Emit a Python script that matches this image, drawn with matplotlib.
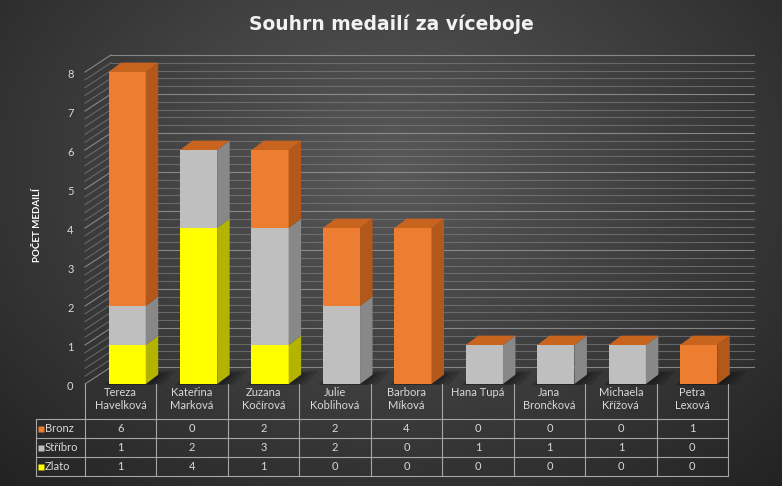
import numpy as np
import matplotlib.pyplot as plt
from matplotlib.patches import Polygon

plt.rcParams["font.family"] = ["Lato", "DejaVu Sans"]

names = ["Tereza\nHavelková", "Kateřina\nMarková", "Zuzana\nKočírová", "Julie\nKoblihová",
         "Barbora\nMíková", "Hana Tupá", "Jana\nBrončková", "Michaela\nKřížová", "Petra\nLexová"]
series = ["Bronz", "Stříbro", "Zlato"]
bronz = [6, 0, 2, 2, 4, 0, 0, 0, 1]
stribro = [1, 2, 3, 2, 0, 1, 1, 1, 0]
zlato = [1, 4, 1, 0, 0, 0, 0, 0, 0]
yticks = list(range(0, 9))

# front / side colours per series
colors = {"Bronz": ("#ED7D31", "#B3581B"),
          "Stříbro": ("#BFBFBF", "#888888"),
          "Zlato": ("#FFFF00", "#B4B400")}
top_color = "#C9641F"
txt = "#D9D9D9"
line = "#A6A6A6"

# 3d geometry (data units)
DX, DY = 0.175, 0.24      # bar depth
WX, WY = 0.364, 0.436     # back wall offset
BW, SHIFT = 0.52, 0.09

fig = plt.figure(figsize=(7.82, 4.86), dpi=100)

# radial background
bg = fig.add_axes([0, 0, 1, 1], zorder=-10)
yy, xx = np.mgrid[0:486, 0:782]
r = np.sqrt(((xx - 391) / 500) ** 2 + ((yy - 170) / 380) ** 2)
lvl = np.clip(0.35 - 0.19 * r, 0.12, 0.4)
bg.imshow(np.dstack([lvl, lvl, lvl]), aspect="auto", extent=[0, 1, 0, 1])
bg.axis("off")

ax = fig.add_axes([85 / 782, 102 / 486, 643 / 782, 312 / 486])
ax.set_xlim(-0.5, 8.5)
ax.set_ylim(0, 8)
ax.axis("off")

# back wall and side wall gridlines
for v in np.arange(0, 8.01, 0.2):
    major = abs(v - round(v)) < 1e-6
    c, a = ("#959595", 0.85) if major else ("#808080", 0.65)
    ax.plot([-0.5 + WX, 8.5 + WX], [v + WY] * 2, color=c, alpha=a, lw=0.8, clip_on=False, zorder=1)
    ax.plot([-0.5, -0.5 + WX], [v, v + WY], color=c, alpha=a, lw=0.8, clip_on=False, zorder=1)

x = np.arange(len(names)) + SHIFT
totals = np.array(bronz) + np.array(stribro) + np.array(zlato)

# soft floor shadows
for xi in x:
    for k, a in enumerate([0.14, 0.14, 0.18]):
        g = 0.08 * (3 - k)
        ax.add_patch(Polygon([(xi - BW / 2 - g * 0.3, -0.02), (xi + BW / 2 + g, -0.02),
                              (xi + BW / 2 + DX + g, DY + g * 0.4), (xi - BW / 2 + DX, DY + g * 0.4)],
                             closed=True, color="black", alpha=a, lw=0, zorder=2, clip_on=False))

bottom = np.zeros(len(names))
for name, vals in [("Zlato", zlato), ("Stříbro", stribro), ("Bronz", bronz)]:
    front, side = colors[name]
    ax.bar(x, vals, BW, bottom=bottom, color=front, zorder=3, clip_on=False)
    for xi, b, v in zip(x, bottom, vals):
        if v == 0:
            continue
        xr = xi + BW / 2
        ax.add_patch(Polygon([(xr, b), (xr + DX, b + DY), (xr + DX, b + v + DY), (xr, b + v)],
                             closed=True, color=side, lw=0, zorder=3, clip_on=False))
    bottom += np.array(vals)

for xi, t in zip(x, totals):
    xl, xr = xi - BW / 2, xi + BW / 2
    ax.add_patch(Polygon([(xl, t), (xl + DX, t + DY), (xr + DX, t + DY), (xr, t)],
                         closed=True, color=top_color, lw=0, zorder=3, clip_on=False))

# y tick labels
for v in yticks:
    ax.text(-0.66, v - 0.06, str(v), ha="right", va="center", color=txt, fontsize=8, clip_on=False)

ax.text(-1.17, 4.08, "POČET MEDAILÍ", rotation=90, ha="center", va="center",
        color="white", fontsize=7, fontweight="bold", clip_on=False)

# data table
def py(px):
    return (384 - px) / 39

x_left = -0.5 - 49 / 71.4
rows = [py(419), py(438), py(457), py(476)]
kw = dict(color=line, lw=0.8, clip_on=False, zorder=4)
for yv in rows:
    ax.plot([x_left, 8.5], [yv, yv], **kw)
ax.plot([x_left, x_left], [rows[0], rows[-1]], **kw)
for i in range(len(names) + 1):
    ax.plot([i - 0.5, i - 0.5], [py(384), rows[-1]], **kw)

for i, n in enumerate(names):
    ax.text(i, py(387), n, ha="center", va="top", color=txt, fontsize=8,
            linespacing=1.25, clip_on=False)

for k, (s, vals) in enumerate(zip(series, [bronz, stribro, zlato])):
    yc = (rows[k] + rows[k + 1]) / 2
    ax.plot([x_left + 0.065], [yc], marker="s", ms=4.5, color=colors[s][0],
            mec="none", clip_on=False, zorder=5)
    ax.text(x_left + 0.125, yc, s, ha="left", va="center", color=txt, fontsize=8, clip_on=False)
    for i, v in enumerate(vals):
        ax.text(i, yc, str(v), ha="center", va="center", color=txt, fontsize=8, clip_on=False)

fig.text(0.5, 1 - 24 / 486, "Souhrn medailí za víceboje", ha="center", va="center",
         color="#F2F2F2", fontsize=13.5, fontweight="bold", family="DejaVu Sans")

fig.savefig("out.png", dpi=100)
